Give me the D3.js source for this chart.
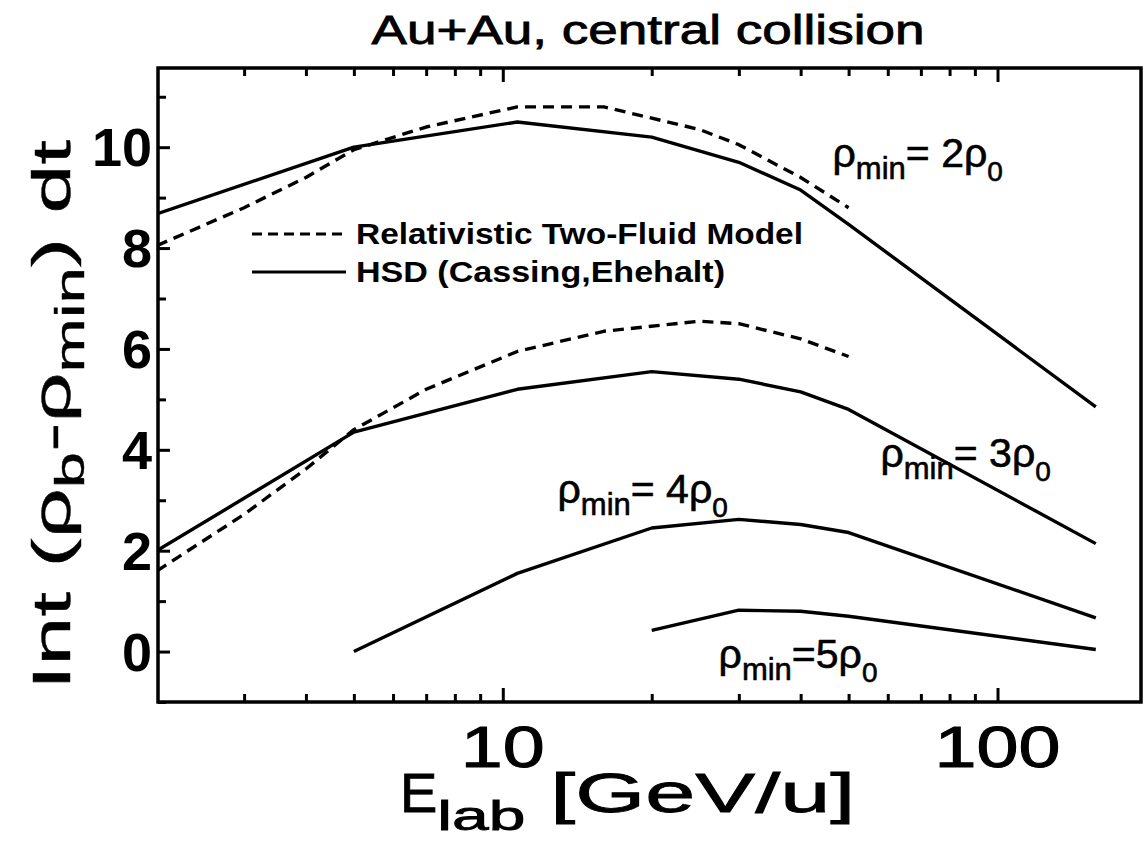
<!DOCTYPE html>
<html>
<head>
<meta charset="utf-8">
<script src="https://cdn.jsdelivr.net/npm/d3@7"></script>
<style>
  html, body { margin: 0; padding: 0; background: #fff; }
  svg { display: block; }
  text { font-family: "Liberation Sans", Arial, Helvetica, sans-serif; fill: #000; }
</style>
</head>
<body>
<svg id="chart" width="1144" height="843"></svg>
<script>
// Beam energies (GeV/u) and time-integrated excess baryon density
const hsdEnergy   = [2, 5, 10.7, 20, 30, 40, 50, 158];
const hsdRho2     = [8.68, 10.0, 10.5, 10.2, 9.7, 9.15, 8.47, 4.85];
const hsdRho3     = [2.0, 4.35, 5.2, 5.55, 5.4, 5.15, 4.8, 2.14];
const hsdEnergy4  = [5, 10.7, 20, 30, 40, 50, 158];
const hsdRho4     = [0.0, 1.55, 2.45, 2.62, 2.52, 2.36, 0.67];
const hsdEnergy5  = [20, 30, 40, 50, 158];
const hsdRho5     = [0.42, 0.82, 0.80, 0.70, 0.04];

const fluidEnergy = [2, 3, 4, 5, 7, 10.7, 16, 25, 30, 40, 50];
const fluidRho2   = [8.05, 8.8, 9.4, 9.95, 10.4, 10.8, 10.8, 10.35, 10.05, 9.4, 8.8];
const fluidRho3   = [1.6, 2.72, 3.62, 4.4, 5.2, 5.95, 6.35, 6.55, 6.5, 6.2, 5.85];

const xMajorTicks = [10, 100];
const xMinorTicks = [3, 4, 5, 6, 7, 8, 9, 20, 30, 40, 50, 60, 70, 80, 90];
const yTicks      = [0, 2, 4, 6, 8, 10];
const yMinorTicks = [-1, 1, 3, 5, 7, 9, 11];

const titleText   = "Au+Au, central collision";
const legendItems = [
  { label: "Relativistic Two-Fluid Model", dash: true,  width: 447 },
  { label: "HSD (Cassing,Ehehalt)",        dash: false, width: 369 }
];
const curveLabels = [
  { n: "2", e: 46.4, v: 9.6 },
  { n: "3", e: 58,   v: 3.65 },
  { n: "4", e: 12.9, v: 2.95 },
  { n: "5", e: 27.3, v: -0.32 }
];

const svg = d3.select("#chart");
const plot = { left: 158, right: 1141, top: 68, bottom: 702 };

const x = d3.scaleLog().domain([2, 195]).range([157, 1141]);
const y = d3.scaleLinear().domain([-1.0, 11.57]).range([plot.bottom, plot.top]);

svg.append("clipPath").attr("id", "plotClip")
  .append("rect")
  .attr("x", plot.left).attr("y", plot.top)
  .attr("width", plot.right - plot.left).attr("height", plot.bottom - plot.top);

const line = d3.line().x(d => x(d[0])).y(d => y(d[1]));
const curves = svg.append("g").attr("clip-path", "url(#plotClip)")
  .attr("fill", "none").attr("stroke", "#000").attr("stroke-width", 3.4)
  .attr("stroke-linejoin", "round");

const solidSets = [
  [hsdEnergy, hsdRho2], [hsdEnergy, hsdRho3],
  [hsdEnergy4, hsdRho4], [hsdEnergy5, hsdRho5]
];
solidSets.forEach(([es, vs]) => {
  curves.append("path").attr("d", line(es.map((e, i) => [e, vs[i]])));
});
[fluidRho2, fluidRho3].forEach(vs => {
  curves.append("path")
    .attr("stroke-dasharray", "11,7")
    .attr("d", line(fluidEnergy.map((e, i) => [e, vs[i]])));
});

// Axes: inward ticks on bottom, top and left
const axes = svg.append("g");
const bottomAxis = d3.axisBottom(x).tickValues(xMajorTicks).tickSize(-14).tickFormat("");
const bottomMinor = d3.axisBottom(x).tickValues(xMinorTicks).tickSize(-8).tickFormat("");
const topAxis = d3.axisTop(x).tickValues(xMajorTicks).tickSize(-14).tickFormat("");
const topMinor = d3.axisTop(x).tickValues(xMinorTicks).tickSize(-8).tickFormat("");
const leftAxis = d3.axisLeft(y).tickValues(yTicks).tickSize(-12).tickFormat("");
const leftMinor = d3.axisLeft(y).tickValues(yMinorTicks).tickSize(-8).tickFormat("");

[[bottomAxis, `translate(0,${plot.bottom})`], [bottomMinor, `translate(0,${plot.bottom})`],
 [topAxis, `translate(0,${plot.top})`], [topMinor, `translate(0,${plot.top})`],
 [leftAxis, `translate(${plot.left},0)`], [leftMinor, `translate(${plot.left},0)`]]
 .forEach(([ax, tr]) => {
   const g = axes.append("g").attr("transform", tr).call(ax);
   g.select(".domain").remove();
   g.selectAll("line").attr("stroke", "#000").attr("stroke-width", 3);
 });

// Frame
svg.append("rect")
  .attr("x", plot.left).attr("y", plot.top)
  .attr("width", plot.right - plot.left).attr("height", plot.bottom - plot.top)
  .attr("fill", "none").attr("stroke", "#000").attr("stroke-width", 3.5);

// Tick labels
svg.append("g").selectAll("text").data(xMajorTicks).join("text")
  .attr("x", d => x(d)).attr("y", 767)
  .attr("text-anchor", "middle").attr("font-size", 58)
  .attr("textLength", d => String(d).length * 42).attr("lengthAdjust", "spacingAndGlyphs")
  .attr("stroke", "#000").attr("stroke-width", 1)
  .text(d => d);
svg.append("g").selectAll("text").data(yTicks).join("text")
  .attr("x", 152).attr("y", d => y(d) + 19)
  .attr("text-anchor", "end").attr("font-size", 54).attr("font-weight", "bold")
  .text(d => d);

// Title
svg.append("text")
  .attr("x", 648).attr("y", 44).attr("text-anchor", "middle")
  .attr("font-size", 40).attr("textLength", 553).attr("lengthAdjust", "spacingAndGlyphs")
  .attr("stroke", "#000").attr("stroke-width", 0.8)
  .text(titleText);

// Axis titles
const xt = svg.append("text").attr("x", 400).attr("y", 812).attr("font-size", 56)
  .attr("stroke", "#000").attr("stroke-width", 0.8);
xt.append("tspan").text("E");
xt.append("tspan").attr("dy", 18).attr("font-size", 40)
  .attr("textLength", 88).attr("lengthAdjust", "spacingAndGlyphs").text("lab");
xt.append("tspan").attr("dy", -18)
  .attr("textLength", 330).attr("lengthAdjust", "spacingAndGlyphs").text(" [GeV/u]");

const yt = svg.append("text")
  .attr("transform", "translate(70,415) rotate(-90)")
  .attr("text-anchor", "middle").attr("font-size", 54)
  .attr("textLength", 550).attr("lengthAdjust", "spacingAndGlyphs")
  .attr("stroke", "#000").attr("stroke-width", 0.4);
yt.append("tspan").text("Int (ρ");
yt.append("tspan").attr("dy", 14).attr("font-size", 40).text("b");
yt.append("tspan").attr("dy", -14).text("-ρ");
yt.append("tspan").attr("dy", 14).attr("font-size", 40).text("min");
yt.append("tspan").attr("dy", -14).text(") dt");

// Legend
const lg = svg.append("g");
legendItems.forEach((d, i) => {
  const ly = 234 + i * 38;
  lg.append("line").attr("x1", 252).attr("x2", 346).attr("y1", ly).attr("y2", ly)
    .attr("stroke", "#000").attr("stroke-width", 3)
    .attr("stroke-dasharray", d.dash ? "10,6" : null);
  lg.append("text").attr("x", 356).attr("y", ly + 10)
    .attr("font-size", 29).attr("font-weight", "bold")
    .attr("textLength", d.width).attr("lengthAdjust", "spacingAndGlyphs")
    .text(d.label);
});

// Density threshold labels
curveLabels.forEach(d => {
  const t = svg.append("text").attr("x", x(d.e)).attr("y", y(d.v)).attr("font-size", 41)
    .attr("stroke", "#000").attr("stroke-width", 0.6);
  t.append("tspan").text("ρ");
  t.append("tspan").attr("dy", 12).attr("font-size", 31).text("min");
  t.append("tspan").attr("dy", -12).text(d.n === "5" ? "=5ρ" : "= " + d.n + "ρ");
  t.append("tspan").attr("dy", 14).attr("font-size", 28).text("0");
});
</script>
</body>
</html>
